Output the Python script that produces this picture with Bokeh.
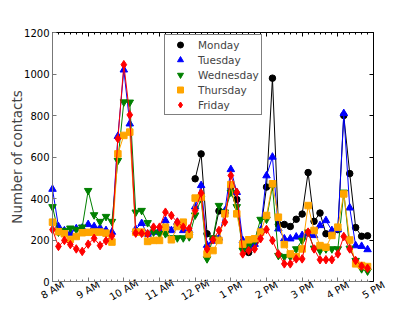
import numpy as np
from bokeh.plotting import figure
from bokeh.models import (FixedTicker, LinearAxis, Range1d, Legend, LegendItem,
                          CustomLabelingPolicy)
from bokeh.core.properties import value
from bokeh.embed import file_html
from bokeh.resources import INLINE

# ---- data: contacts per 10-minute slot, 8:00 AM .. 4:50 PM ----
hour_ticks = [8, 9, 10, 11, 12, 13, 14, 15, 16, 17]
hour_labels = ["8 AM", "9 AM", "10 AM", "11 AM", "12 PM", "1 PM", "2 PM", "3 PM", "4 PM", "5 PM"]
y_ticks = [0, 200, 400, 600, 800, 1000, 1200]
slot_start_hour = 8
slot_minutes = 10
n_slots = 54

nan = float("nan")
monday = [nan] * 24 + [
    495, 615, 230, 205, 340, 330, 455, 395, 165, 140, 185, 240,
    455, 980, 275, 275, 265, 300, 325, 525, 290, 330, 230, 230,
    250, 800, 520, 260, 218, 220]
tuesday = [
    445, 265, 245, 232, 255, 258, 275, 265, 258, 246, 238, 700,
    1020, 760, 252, 280, 228, 238, 246, 294, 246, 286, 246, 246,
    360, 463, 175, 195, 210, 340, 540, 430, 198, 160, 180, 246,
    510, 600, 254, 206, 206, 215, 222, 230, 222, 270, 294, 246,
    250, 810, 355, 173, 170, 154]
wednesday = [
    360, 238, 246, 257, 251, 262, 438, 321, 289, 313, 289, 583,
    865, 864, 334, 342, 283, 238, 230, 230, 210, 210, 210, 215,
    320, 398, 109, 210, 366, 334, 430, 360, 150, 173, 198, 299,
    300, 460, 125, 120, 120, 157, 198, 238, 160, 149, 157, 157,
    157, 430, 160, 101, 61, 50]
thursday = [
    286, 240, 230, 203, 217, 235, 237, 238, 238, 233, 190, 615,
    704, 720, 238, 238, 193, 198, 198, 262, 201, 265, 286, 226,
    402, 406, 133, 149, 198, 326, 467, 326, 180, 201, 206, 238,
    318, 471, 310, 178, 133, 120, 157, 366, 246, 173, 165, 222,
    262, 422, 200, 85, 77, 72]
friday = [
    250, 169, 198, 178, 157, 145, 180, 208, 173, 196, 220, 688,
    1045, 803, 233, 232, 230, 262, 262, 334, 318, 286, 262, 254,
    342, 426, 157, 201, 246, 286, 511, 430, 133, 149, 157, 206,
    251, 198, 133, 85, 85, 109, 109, 238, 157, 105, 105, 105,
    133, 217, 157, 101, 74, 64]

series = [
    ("Monday", monday, "black", "circle", 6.5),
    ("Tuesday", tuesday, "blue", "triangle", 7.5),
    ("Wednesday", wednesday, "green", "inverted_triangle", 7.5),
    ("Thursday", thursday, "orange", "square", 6.5),
    ("Friday", friday, "red", "diamond", 8.5),
]

times = slot_start_hour + np.arange(n_slots) * slot_minutes / 60.0
minor = list(slot_start_hour + np.arange(0, 9 * 60 + 1, slot_minutes) / 60.0)

FONT = "DejaVu Sans"
TICK_FS = "10px"

# ---- layout in pixels: the frame fills the whole canvas, the axes sit at fixed places ----
W, H = 415, 312
BOX_L, BOX_R, BOX_T, BOX_B = 52, 373, 32, 281     # plot box edges on the canvas
X0, X1 = 8, 17
Y0, Y1 = 0, 1200
ppx = (BOX_R - BOX_L) / (X1 - X0)
ppy = (BOX_B - BOX_T) / (Y1 - Y0)
x_range = Range1d(X0 - BOX_L / ppx, X1 + (W - BOX_R) / ppx)
y_range = Range1d(Y0 - (H - BOX_B) / ppy, Y1 + BOX_T / ppy)
LABEL_DROP = 8.5           # px from the box bottom to the centre of the hour labels

p = figure(width=W, height=H, output_backend="svg", toolbar_location=None, title=None,
           x_range=x_range, y_range=y_range,
           min_border_left=0, min_border_right=0, min_border_top=0, min_border_bottom=0)
p.xgrid.visible = False
p.ygrid.visible = False
p.outline_line_color = None
p.background_fill_color = "white"
p.border_fill_color = "white"

xt = FixedTicker(ticks=hour_ticks, minor_ticks=minor)
yt = FixedTicker(ticks=y_ticks, minor_ticks=[])

no_labels = "for (const i of indices) { if (i < 0) yield i }"

def style_axis(ax, color):
    ax.axis_line_color = color
    ax.major_tick_line_color = color
    ax.minor_tick_line_color = color
    ax.major_tick_in = 4
    ax.major_tick_out = 0
    ax.minor_tick_in = 2
    ax.minor_tick_out = 0
    ax.major_label_text_font = FONT
    ax.major_label_text_font_size = TICK_FS
    ax.major_label_text_color = "black"

def hide_labels(ax):
    ax.major_label_text_font_size = "1px"
    ax.major_label_standoff = 0
    ax.major_label_policy = CustomLabelingPolicy(code=no_labels)

xa = p.xaxis[0]
xa.ticker = xt
xa.fixed_location = Y0
xa.bounds = (X0, X1)
style_axis(xa, "#777777")
hide_labels(xa)

ya = p.yaxis[0]
ya.ticker = yt
ya.fixed_location = X0
ya.bounds = (Y0, Y1)
style_axis(ya, "#777777")
ya.minor_tick_in = 0
ya.major_label_standoff = 3
ya.axis_label = "Number of contacts"
ya.axis_label_text_font = FONT
ya.axis_label_text_font_size = "13.5px"
ya.axis_label_text_font_style = "normal"
ya.axis_label_standoff = -4

top = LinearAxis(ticker=xt, fixed_location=Y1, bounds=(X0, X1))
style_axis(top, "black")
hide_labels(top)
p.add_layout(top, "above")

right = LinearAxis(ticker=yt, fixed_location=X1, bounds=(Y0, Y1))
style_axis(right, "black")
right.minor_tick_in = 0
hide_labels(right)
p.add_layout(right, "right")

items = []
for name, vals, color, marker, size in series:
    y = np.array(vals, dtype=float)
    p.line(times, y, line_color=color, line_width=1)
    r = p.scatter(times, y, marker=marker, size=size, fill_color=color, line_color=color)
    items.append(LegendItem(label=name, renderers=[r]))

# rotated hour labels centred under their ticks
p.text(x=hour_ticks, y=[Y0 - LABEL_DROP / ppy] * len(hour_ticks), text=hour_labels,
       angle=np.pi / 6, text_align="center", text_baseline="middle",
       text_font=value(FONT), text_font_size=value(TICK_FS), text_color="black")

legend = Legend(items=items, location=(164, H - 115))
legend.padding = 2
legend.spacing = 0
legend.glyph_height = 15
legend.label_height = 15
legend.glyph_width = 26
legend.label_standoff = 5
legend.label_text_font = FONT
legend.label_text_font_size = "10.5px"
legend.border_line_color = "black"
legend.border_line_width = 1
legend.background_fill_alpha = 1
p.add_layout(legend, "center")

open("out.html", "w").write(file_html(p, INLINE))
